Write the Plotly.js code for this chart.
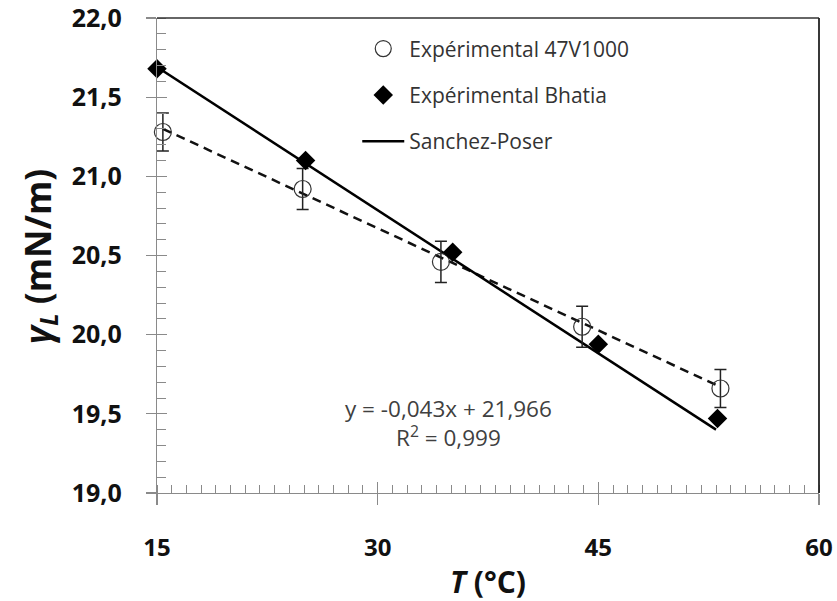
<!DOCTYPE html>
<html>
<head>
<meta charset="utf-8">
<script src="https://cdn.plot.ly/plotly-3.0.1.min.js"></script>
<style>html,body{margin:0;padding:0;background:#fff;}#chart{width:837px;height:601px;}</style>
</head>
<body>
<div id="chart"></div>
<script>
// Experimental 47V1000 (open circles with error bars)
const expX = [15.4, 24.9, 34.3, 43.9, 53.3];
const expY = [21.28, 20.92, 20.46, 20.05, 19.66];
const expErr = [0.12, 0.13, 0.13, 0.13, 0.12];
// Experimental Bhatia (filled diamonds)
const bhatiaX = [15.0, 25.1, 35.1, 45.0, 53.1];
const bhatiaY = [21.68, 21.10, 20.52, 19.94, 19.47];
// Sanchez-Poser model line
const sanchezX = [15.0, 53.0];
const sanchezY = [21.69, 19.40];
// Linear trendline of 47V1000 data (dashed)
const trendX = [15.4, 53.3];
const trendY = [21.30, 19.67];
const xTicks = [15, 30, 45, 60];
const yTicks = [19.0, 19.5, 20.0, 20.5, 21.0, 21.5, 22.0];
const eqText = "y = -0,043x + 21,966<br>R<sup>2</sup> = 0,999";
const yTitle = '<i>γ<sub>L</sub></i> (mN/m)';
const xTitle = '<i>T</i> (°C)';

const axisGray = '#8a8a8a';
const baseFont = "'Open Sans', 'DejaVu Sans', sans-serif";

const traces = [
  {x: trendX, y: trendY, mode: 'lines', showlegend: false, hoverinfo: 'skip',
   line: {color: '#111', width: 2.5, dash: '9px,6px'}},
  {x: sanchezX, y: sanchezY, mode: 'lines', name: 'Sanchez-Poser', legendrank: 3, legendgroup: 'c',
   line: {color: '#000', width: 2.5}, cliponaxis: false},
  {x: expX, y: expY, mode: 'markers', name: 'Expérimental 47V1000', legendrank: 1, legendgroup: 'a',
   marker: {symbol: 'circle-open', size: 17, color: '#333', line: {width: 1.2, color: '#333'}},
   error_y: {type: 'data', array: expErr, visible: true, color: '#222', thickness: 1.5, width: 6},
   cliponaxis: false},
  {x: bhatiaX, y: bhatiaY, mode: 'markers', name: 'Expérimental Bhatia', legendrank: 2, legendgroup: 'b',
   marker: {symbol: 'diamond', size: 15, color: '#000'}, cliponaxis: false},
  {x: [], y: [], xaxis: 'x2', yaxis: 'y2', showlegend: false, hoverinfo: 'skip'},
  {x: [], y: [], xaxis: 'x2', yaxis: 'y3', showlegend: false, hoverinfo: 'skip'}
];

const layout = {
  width: 837, height: 601,
  margin: {l: 157, r: 18, t: 18, b: 108},
  paper_bgcolor: '#fff', plot_bgcolor: '#fff',
  separators: ', ',
  font: {family: baseFont, color: '#000'},
  showlegend: true,
  legend: {x: 0.3025, y: 0.978, xanchor: 'left', yanchor: 'top',
    font: {family: baseFont, size: 21, color: '#333'}, bgcolor: 'rgba(0,0,0,0)',
    itemwidth: 42, tracegroupgap: 16, traceorder: 'grouped'},
  xaxis: {
    range: [15, 60], tickvals: xTicks, ticktext: xTicks.map(String),
    showline: true, linecolor: axisGray, linewidth: 1.3, mirror: false,
    ticks: 'outside', ticklen: 11, tickcolor: axisGray, tickwidth: 1.2,
    minor: {dtick: 1, tick0: 15, ticks: 'inside', ticklen: 8, tickcolor: axisGray, tickwidth: 1},
    showgrid: false, zeroline: false, ticklabeloverflow: 'allow',
    ticklabelstandoff: 22,
    tickfont: {family: baseFont, size: 24, weight: 'bold', color: '#111'}
  },
  yaxis: {
    range: [19, 22], tickvals: yTicks, tickformat: '.1f',
    showline: true, linecolor: axisGray, linewidth: 1.3,
    ticks: 'outside', ticklen: 29, tickcolor: 'rgba(0,0,0,0)', tickwidth: 1,
    minor: {dtick: 0.1, tick0: 19, ticks: 'inside', ticklen: 9, tickcolor: axisGray, tickwidth: 1},
    showgrid: false, zeroline: false, ticklabeloverflow: 'allow',
    tickfont: {family: baseFont, size: 25, weight: 'bold', color: '#111'}
  },
  xaxis2: {overlaying: 'x', anchor: 'y2', range: [15, 60], tickvals: xTicks, showticklabels: false,
    ticks: 'inside', ticklen: 11, tickcolor: axisGray, tickwidth: 1.2,
    showline: false, showgrid: false, zeroline: false},
  yaxis2: {overlaying: 'y', anchor: 'x2', range: [19, 22], tickvals: yTicks, showticklabels: false,
    ticks: 'inside', ticklen: 10, tickcolor: axisGray, tickwidth: 1.2,
    showline: false, showgrid: false, zeroline: false},
  yaxis3: {overlaying: 'y', anchor: 'x2', range: [19, 22], tickvals: yTicks, showticklabels: false,
    ticks: 'outside', ticklen: 10, tickcolor: axisGray, tickwidth: 1.2,
    showline: false, showgrid: false, zeroline: false},
  shapes: [
    {type: 'line', xref: 'paper', yref: 'paper', x0: 0, x1: 1, y0: 1, y1: 1, line: {color: '#333', width: 1.5}},
    {type: 'line', xref: 'paper', yref: 'paper', x0: 1, x1: 1, y0: 0, y1: 1, line: {color: '#222', width: 1.8}}
  ],
  annotations: [
    {x: 34.8, y: 19.44, xref: 'x', yref: 'y', text: eqText, showarrow: false, align: 'center',
     font: {family: baseFont, size: 22.5, color: '#404040'}},
    {x: -0.1767, y: 0.497, xref: 'paper', yref: 'paper', xanchor: 'center', yanchor: 'middle',
     text: yTitle, textangle: -90, showarrow: false,
     font: {family: baseFont, size: 35, weight: 'bold', color: '#111'}},
    {x: 0.5, y: -0.1853, xref: 'paper', yref: 'paper', xanchor: 'center', yanchor: 'middle',
     text: xTitle, showarrow: false,
     font: {family: baseFont, size: 30, weight: 'bold', color: '#111'}}
  ]
};

Plotly.newPlot('chart', traces, layout, {displayModeBar: false, staticPlot: true});
</script>
</body>
</html>
